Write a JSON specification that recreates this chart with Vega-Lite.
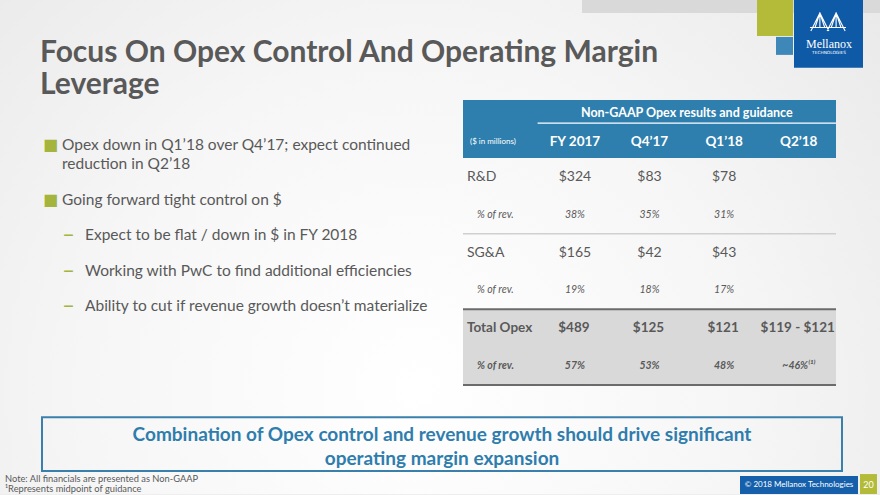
{
  "$schema": "https://vega.github.io/schema/vega-lite/v6.json",
  "width": 880,
  "height": 495,
  "autosize": {"type": "fit", "contains": "padding"},
  "padding": 0,
  "background": "#eeeeee",
  "config": {"view": {"stroke": null}, "text": {"font": "Lato", "color": "#595959"}},
  "datasets": {
    "bullets": [
      {"item": "b1", "level": "bullet", "marker": "■", "text": ["Opex down in Q1’18 over Q4’17; expect continued", "reduction in Q2’18"]},
      {"item": "b2", "level": "bullet", "marker": "■", "text": "Going forward tight control on $"},
      {"item": "s1", "level": "sub", "marker": "–", "text": "Expect to be flat / down in $ in FY 2018"},
      {"item": "s2", "level": "sub", "marker": "–", "text": "Working with PwC to find additional efficiencies"},
      {"item": "s3", "level": "sub", "marker": "–", "text": "Ability to cut if revenue growth doesn’t materialize"}
    ],
    "header": [
      {"col": "label", "text": "($ in millions)"},
      {"col": "FY 2017", "text": "FY 2017"},
      {"col": "Q4’17", "text": "Q4’17"},
      {"col": "Q1’18", "text": "Q1’18"},
      {"col": "Q2’18", "text": "Q2’18"}
    ],
    "cells": [
      {"row": "R&D", "col": "label", "kind": "amt", "text": "R&D"},
      {"row": "R&D", "col": "FY 2017", "kind": "amt", "text": "$324"},
      {"row": "R&D", "col": "Q4’17", "kind": "amt", "text": "$83"},
      {"row": "R&D", "col": "Q1’18", "kind": "amt", "text": "$78"},
      {"row": "R&D %", "col": "label", "kind": "pct", "text": "% of rev."},
      {"row": "R&D %", "col": "FY 2017", "kind": "pct", "text": "38%"},
      {"row": "R&D %", "col": "Q4’17", "kind": "pct", "text": "35%"},
      {"row": "R&D %", "col": "Q1’18", "kind": "pct", "text": "31%"},
      {"row": "SG&A", "col": "label", "kind": "amt", "text": "SG&A"},
      {"row": "SG&A", "col": "FY 2017", "kind": "amt", "text": "$165"},
      {"row": "SG&A", "col": "Q4’17", "kind": "amt", "text": "$42"},
      {"row": "SG&A", "col": "Q1’18", "kind": "amt", "text": "$43"},
      {"row": "SG&A %", "col": "label", "kind": "pct", "text": "% of rev."},
      {"row": "SG&A %", "col": "FY 2017", "kind": "pct", "text": "19%"},
      {"row": "SG&A %", "col": "Q4’17", "kind": "pct", "text": "18%"},
      {"row": "SG&A %", "col": "Q1’18", "kind": "pct", "text": "17%"},
      {"row": "Total Opex", "col": "label", "kind": "tamt", "text": "Total Opex"},
      {"row": "Total Opex", "col": "FY 2017", "kind": "tamt", "text": "$489"},
      {"row": "Total Opex", "col": "Q4’17", "kind": "tamt", "text": "$125"},
      {"row": "Total Opex", "col": "Q1’18", "kind": "tamt", "text": "$121"},
      {"row": "Total Opex", "col": "Q2’18", "kind": "tamt", "text": "$119 - $121"},
      {"row": "Total %", "col": "label", "kind": "tpct", "text": "% of rev."},
      {"row": "Total %", "col": "FY 2017", "kind": "tpct", "text": "57%"},
      {"row": "Total %", "col": "Q4’17", "kind": "tpct", "text": "53%"},
      {"row": "Total %", "col": "Q1’18", "kind": "tpct", "text": "48%"},
      {"row": "Total %", "col": "Q2’18", "kind": "tpct", "text": "~46%⁽¹⁾"}
    ]
  },
  "resolve": {"scale": {"x": "independent", "y": "independent"}},
  "layer": [
    {
      "data": {"values": [{}]},
      "layer": [
        {"mark": {"type": "rect", "fill": {"gradient": "radial", "x1": 0.47, "y1": 0.66, "r1": 0, "x2": 0.47, "y2": 0.66, "r2": 0.75, "stops": [{"offset": 0, "color": "#ffffff"}, {"offset": 0.5, "color": "#f6f6f6"}, {"offset": 1, "color": "#e7e7e7"}]}},
         "encoding": {"x": {"datum": 0, "scale": {"domain": [0, 880], "nice": false, "zero": false}, "axis": null}, "x2": {"datum": 880}, "y": {"datum": 0, "scale": {"domain": [0, 495], "nice": false, "zero": false, "reverse": true}, "axis": null}, "y2": {"datum": 495}}},
        {"mark": {"type": "rect", "color": "#d9d9d9"},
         "encoding": {"x": {"datum": 582, "scale": {"domain": [0, 880], "nice": false, "zero": false}, "axis": null}, "x2": {"datum": 880}, "y": {"datum": 0, "scale": {"domain": [0, 495], "nice": false, "zero": false, "reverse": true}, "axis": null}, "y2": {"datum": 13}}},
        {"mark": {"type": "rect", "color": "#b3bb38"},
         "encoding": {"x": {"datum": 757, "scale": {"domain": [0, 880], "nice": false, "zero": false}, "axis": null}, "x2": {"datum": 793}, "y": {"datum": 0, "scale": {"domain": [0, 495], "nice": false, "zero": false, "reverse": true}, "axis": null}, "y2": {"datum": 36}}},
        {"mark": {"type": "rect", "color": "#3d87b9"},
         "encoding": {"x": {"datum": 776, "scale": {"domain": [0, 880], "nice": false, "zero": false}, "axis": null}, "x2": {"datum": 793}, "y": {"datum": 37, "scale": {"domain": [0, 495], "nice": false, "zero": false, "reverse": true}, "axis": null}, "y2": {"datum": 55}}},
        {"mark": {"type": "rect", "color": "#0f5aa7"},
         "encoding": {"x": {"datum": 794, "scale": {"domain": [0, 880], "nice": false, "zero": false}, "axis": null}, "x2": {"datum": 863}, "y": {"datum": 0, "scale": {"domain": [0, 495], "nice": false, "zero": false, "reverse": true}, "axis": null}, "y2": {"datum": 68}}},
        {"mark": {"type": "point", "filled": false, "stroke": "#ffffff", "strokeWidth": 1.1, "opacity": 1, "size": 1300, "shape": "M -0.95 0.45 L -0.45 -0.55 L 0.05 0.45 M -0.05 0.45 L 0.45 -0.55 L 0.95 0.45 M -1 0.25 L 1 0.25 M -0.45 -0.55 L -0.45 0.25 M 0.45 -0.55 L 0.45 0.25 M -0.45 -0.55 L -0.72 0.25 M -0.45 -0.55 L -0.18 0.25 M 0.45 -0.55 L 0.18 0.25 M 0.45 -0.55 L 0.72 0.25"},
         "encoding": {"x": {"datum": 828, "scale": {"domain": [0, 880], "nice": false, "zero": false}, "axis": null}, "y": {"datum": 23, "scale": {"domain": [0, 495], "nice": false, "zero": false, "reverse": true}, "axis": null}}},
        {"mark": {"type": "text", "font": "Liberation Serif", "fontSize": 12, "color": "#ffffff", "align": "center", "baseline": "alphabetic"},
         "encoding": {"text": {"value": "Mellanox"}, "x": {"datum": 829, "scale": {"domain": [0, 880], "nice": false, "zero": false}, "axis": null}, "y": {"datum": 48, "scale": {"domain": [0, 495], "nice": false, "zero": false, "reverse": true}, "axis": null}}},
        {"mark": {"type": "text", "font": "DejaVu Sans", "fontSize": 4.3, "color": "#ffffff", "align": "center", "baseline": "alphabetic"},
         "encoding": {"text": {"value": "TECHNOLOGIES"}, "x": {"datum": 829, "scale": {"domain": [0, 880], "nice": false, "zero": false}, "axis": null}, "y": {"datum": 54, "scale": {"domain": [0, 495], "nice": false, "zero": false, "reverse": true}, "axis": null}}},
        {"mark": {"type": "text", "fontSize": 30, "fontWeight": "bold", "color": "#595959", "align": "left", "baseline": "alphabetic", "lineHeight": 32},
         "encoding": {"text": {"value": ["Focus On Opex Control And Operating Margin", "Leverage"]}, "x": {"datum": 40, "scale": {"domain": [0, 880], "nice": false, "zero": false}, "axis": null}, "y": {"datum": 62, "scale": {"domain": [0, 495], "nice": false, "zero": false, "reverse": true}, "axis": null}}},
        {"mark": {"type": "rect", "fill": "transparent", "stroke": "#3a80ad", "strokeWidth": 2},
         "encoding": {"x": {"datum": 42, "scale": {"domain": [0, 880], "nice": false, "zero": false}, "axis": null}, "x2": {"datum": 842}, "y": {"datum": 418, "scale": {"domain": [0, 495], "nice": false, "zero": false, "reverse": true}, "axis": null}, "y2": {"datum": 472}}},
        {"mark": {"type": "text", "fontSize": 19, "fontWeight": "bold", "color": "#2f7dad", "align": "center", "baseline": "alphabetic", "lineHeight": 24},
         "encoding": {"text": {"value": ["Combination of Opex control and revenue growth should drive significant", "operating margin expansion"]}, "x": {"datum": 442, "scale": {"domain": [0, 880], "nice": false, "zero": false}, "axis": null}, "y": {"datum": 442, "scale": {"domain": [0, 495], "nice": false, "zero": false, "reverse": true}, "axis": null}}},
        {"mark": {"type": "text", "fontSize": 9.3, "color": "#595959", "align": "left", "baseline": "alphabetic", "lineHeight": 10},
         "encoding": {"text": {"value": ["Note: All financials are presented as Non-GAAP", "¹Represents midpoint of guidance"]}, "x": {"datum": 5, "scale": {"domain": [0, 880], "nice": false, "zero": false}, "axis": null}, "y": {"datum": 483, "scale": {"domain": [0, 495], "nice": false, "zero": false, "reverse": true}, "axis": null}}},
        {"mark": {"type": "rect", "color": "#155fab"},
         "encoding": {"x": {"datum": 740, "scale": {"domain": [0, 880], "nice": false, "zero": false}, "axis": null}, "x2": {"datum": 858}, "y": {"datum": 477, "scale": {"domain": [0, 495], "nice": false, "zero": false, "reverse": true}, "axis": null}, "y2": {"datum": 495}}},
        {"mark": {"type": "rect", "color": "#b3bb38"},
         "encoding": {"x": {"datum": 860, "scale": {"domain": [0, 880], "nice": false, "zero": false}, "axis": null}, "x2": {"datum": 877}, "y": {"datum": 475, "scale": {"domain": [0, 495], "nice": false, "zero": false, "reverse": true}, "axis": null}, "y2": {"datum": 495}}},
        {"mark": {"type": "text", "fontSize": 8, "color": "#ffffff", "align": "center", "baseline": "middle"},
         "encoding": {"text": {"value": "© 2018 Mellanox Technologies"}, "x": {"datum": 799, "scale": {"domain": [0, 880], "nice": false, "zero": false}, "axis": null}, "y": {"datum": 486, "scale": {"domain": [0, 495], "nice": false, "zero": false, "reverse": true}, "axis": null}}},
        {"mark": {"type": "text", "fontSize": 9, "color": "#ffffff", "align": "center", "baseline": "middle"},
         "encoding": {"text": {"value": "20"}, "x": {"datum": 868.5, "scale": {"domain": [0, 880], "nice": false, "zero": false}, "axis": null}, "y": {"datum": 486, "scale": {"domain": [0, 495], "nice": false, "zero": false, "reverse": true}, "axis": null}}}
      ]
    },
    {
      "data": {"name": "bullets"},
      "resolve": {"scale": {"x": "independent"}},
      "layer": [
        {"transform": [{"filter": "datum.item === 'b2'"}],
         "mark": {"type": "text", "align": "left", "baseline": "bottom", "color": "#a4b43c", "font": "DejaVu Sans", "fontSize": 16},
         "encoding": {
           "x": {"field": "level", "type": "nominal", "scale": {"type": "point", "domain": ["bullet", "sub"], "range": [43, 63], "padding": 0}, "axis": null},
           "y": {"field": "item", "type": "nominal", "scale": {"type": "point", "domain": ["b1", "b2", "s1", "s2", "s3"], "range": [172, 314], "padding": 0}, "axis": null},
           "text": {"field": "marker"}}},
        {"transform": [{"filter": "datum.item === 'b1'"}],
         "mark": {"type": "text", "align": "left", "baseline": "bottom", "color": "#a4b43c", "font": "DejaVu Sans", "fontSize": 16, "dy": -19.5},
         "encoding": {
           "x": {"field": "level", "type": "nominal", "scale": {"type": "point", "domain": ["bullet", "sub"], "range": [43, 63], "padding": 0}, "axis": null},
           "y": {"field": "item", "type": "nominal", "scale": {"type": "point", "domain": ["b1", "b2", "s1", "s2", "s3"], "range": [172, 314], "padding": 0}, "axis": null},
           "text": {"field": "marker"}}},
        {"transform": [{"filter": "datum.level === 'sub'"}],
         "mark": {"type": "text", "align": "left", "baseline": "bottom", "color": "#a4b43c", "font": "DejaVu Sans", "fontSize": 22, "dy": 3},
         "encoding": {
           "x": {"field": "level", "type": "nominal", "scale": {"type": "point", "domain": ["bullet", "sub"], "range": [43, 63], "padding": 0}, "axis": null},
           "y": {"field": "item", "type": "nominal", "scale": {"type": "point", "domain": ["b1", "b2", "s1", "s2", "s3"], "range": [172, 314], "padding": 0}, "axis": null},
           "text": {"field": "marker"}}},
        {"transform": [{"filter": "datum.item !== 'b1'"}],
         "mark": {"type": "text", "align": "left", "baseline": "bottom", "lineHeight": 19.5, "fontSize": 15.5, "color": "#595959"},
         "encoding": {
           "x": {"field": "level", "type": "nominal", "scale": {"type": "point", "domain": ["bullet", "sub"], "range": [62, 85], "padding": 0}, "axis": null},
           "y": {"field": "item", "type": "nominal", "scale": {"type": "point", "domain": ["b1", "b2", "s1", "s2", "s3"], "range": [172, 314], "padding": 0}, "axis": null},
           "text": {"field": "text"}}},
        {"transform": [{"filter": "datum.item === 'b1'"}],
         "mark": {"type": "text", "align": "left", "baseline": "bottom", "lineHeight": 19.5, "fontSize": 15.5, "color": "#595959", "dy": -19.5},
         "encoding": {
           "x": {"field": "level", "type": "nominal", "scale": {"type": "point", "domain": ["bullet", "sub"], "range": [62, 85], "padding": 0}, "axis": null},
           "y": {"field": "item", "type": "nominal", "scale": {"type": "point", "domain": ["b1", "b2", "s1", "s2", "s3"], "range": [172, 314], "padding": 0}, "axis": null},
           "text": {"field": "text"}}}
      ]
    },
    {
      "data": {"name": "header"},
      "layer": [
        {"data": {"values": [{}]},
         "mark": {"type": "rect", "color": "#2f7fae"},
         "encoding": {
           "x": {"datum": "label", "type": "nominal", "bandPosition": 0, "scale": {"type": "band", "domain": ["label", "FY 2017", "Q4’17", "Q1’18", "Q2’18"], "range": [463, 836], "paddingInner": 0, "paddingOuter": 0}, "axis": null},
           "x2": {"datum": "Q2’18", "bandPosition": 1},
           "y": {"datum": "title", "type": "nominal", "bandPosition": 0, "scale": {"type": "band", "domain": ["title", "cols"], "range": [100, 158], "paddingInner": 0, "paddingOuter": 0}, "axis": null},
           "y2": {"datum": "cols", "bandPosition": 1}}},
        {"data": {"values": [{}]},
         "mark": {"type": "rule", "color": "#ffffff", "strokeWidth": 1.2},
         "encoding": {
           "x": {"datum": "FY 2017", "type": "nominal", "bandPosition": 0, "scale": {"type": "band", "domain": ["label", "FY 2017", "Q4’17", "Q1’18", "Q2’18"], "range": [463, 836], "paddingInner": 0, "paddingOuter": 0}, "axis": null},
           "x2": {"datum": "Q2’18", "bandPosition": 1},
           "y": {"datum": "title", "type": "nominal", "bandPosition": 0.8, "scale": {"type": "band", "domain": ["title", "cols"], "range": [100, 158], "paddingInner": 0, "paddingOuter": 0}, "axis": null}}},
        {"data": {"values": [{}]},
         "mark": {"type": "text", "color": "#ffffff", "fontSize": 12.5, "fontWeight": "bold", "align": "center", "baseline": "middle"},
         "encoding": {
           "text": {"value": "Non-GAAP Opex results and guidance"},
           "x": {"datum": "Q1’18", "type": "nominal", "bandPosition": 0, "scale": {"type": "band", "domain": ["label", "FY 2017", "Q4’17", "Q1’18", "Q2’18"], "range": [463, 836], "paddingInner": 0, "paddingOuter": 0}, "axis": null},
           "y": {"datum": "title", "type": "nominal", "bandPosition": 0.45, "scale": {"type": "band", "domain": ["title", "cols"], "range": [100, 158], "paddingInner": 0, "paddingOuter": 0}, "axis": null}}},
        {"transform": [{"filter": "datum.col !== 'label'"}],
         "mark": {"type": "text", "color": "#ffffff", "fontSize": 13.5, "fontWeight": "bold", "align": "center", "baseline": "middle"},
         "encoding": {
           "text": {"field": "text"},
           "x": {"field": "col", "type": "nominal", "bandPosition": 0.5, "scale": {"type": "band", "domain": ["label", "FY 2017", "Q4’17", "Q1’18", "Q2’18"], "range": [463, 836], "paddingInner": 0, "paddingOuter": 0}, "axis": null},
           "y": {"datum": "cols", "type": "nominal", "bandPosition": 0.45, "scale": {"type": "band", "domain": ["title", "cols"], "range": [100, 158], "paddingInner": 0, "paddingOuter": 0}, "axis": null}}},
        {"transform": [{"filter": "datum.col === 'label'"}],
         "mark": {"type": "text", "color": "#ffffff", "fontSize": 8, "align": "left", "baseline": "middle", "dx": 7},
         "encoding": {
           "text": {"field": "text"},
           "x": {"field": "col", "type": "nominal", "bandPosition": 0, "scale": {"type": "band", "domain": ["label", "FY 2017", "Q4’17", "Q1’18", "Q2’18"], "range": [463, 836], "paddingInner": 0, "paddingOuter": 0}, "axis": null},
           "y": {"datum": "cols", "type": "nominal", "bandPosition": 0.45, "scale": {"type": "band", "domain": ["title", "cols"], "range": [100, 158], "paddingInner": 0, "paddingOuter": 0}, "axis": null}}}
      ]
    },
    {
      "data": {"name": "cells"},
      "encoding": {
        "x": {"field": "col", "type": "nominal", "scale": {"type": "band", "domain": ["label", "FY 2017", "Q4’17", "Q1’18", "Q2’18"], "range": [463, 836], "paddingInner": 0, "paddingOuter": 0}, "axis": null},
        "y": {"field": "row", "type": "nominal", "scale": {"type": "band", "domain": ["R&D", "R&D %", "SG&A", "SG&A %", "Total Opex", "Total %"], "range": [158, 385], "paddingInner": 0, "paddingOuter": 0}, "axis": null},
        "text": {"field": "text"}
      },
      "layer": [
        {"data": {"values": [{}]},
         "mark": {"type": "rect", "color": "#d9d9d9"},
         "encoding": {"x": {"datum": "label", "type": "nominal", "bandPosition": 0}, "x2": {"datum": "Q2’18", "bandPosition": 1}, "y": {"datum": "Total Opex", "type": "nominal", "bandPosition": 0}, "y2": {"datum": "Total %", "bandPosition": 1}, "text": null}},
        {"data": {"values": [{}]},
         "mark": {"type": "rule", "color": "#d0d0d0", "strokeWidth": 1.5},
         "encoding": {"x": {"datum": "label", "type": "nominal", "bandPosition": 0}, "x2": {"datum": "Q2’18", "bandPosition": 1}, "y": {"datum": "SG&A", "type": "nominal", "bandPosition": 0}, "text": null}},
        {"data": {"values": [{}]},
         "mark": {"type": "rule", "color": "#6b6b6b", "strokeWidth": 2},
         "encoding": {"x": {"datum": "label", "type": "nominal", "bandPosition": 0}, "x2": {"datum": "Q2’18", "bandPosition": 1}, "y": {"datum": "Total Opex", "type": "nominal", "bandPosition": 0}, "text": null}},
        {"data": {"values": [{}]},
         "mark": {"type": "rule", "color": "#6b6b6b", "strokeWidth": 2},
         "encoding": {"x": {"datum": "label", "type": "nominal", "bandPosition": 0}, "x2": {"datum": "Q2’18", "bandPosition": 1}, "y": {"datum": "Total %", "type": "nominal", "bandPosition": 1}, "text": null}},
        {"transform": [{"filter": "datum.col !== 'label' && datum.kind === 'amt'"}],
         "mark": {"type": "text", "fontSize": 14, "align": "center", "baseline": "middle"}},
        {"transform": [{"filter": "datum.col !== 'label' && datum.kind === 'pct'"}],
         "mark": {"type": "text", "fontSize": 10.5, "fontStyle": "italic", "align": "center", "baseline": "middle"}},
        {"transform": [{"filter": "datum.col !== 'label' && datum.kind === 'tamt'"}],
         "mark": {"type": "text", "fontSize": 13.5, "fontWeight": "bold", "align": "center", "baseline": "middle", "dx": -1}},
        {"transform": [{"filter": "datum.col !== 'label' && datum.kind === 'tpct'"}],
         "mark": {"type": "text", "fontSize": 10.5, "fontWeight": "bold", "fontStyle": "italic", "align": "center", "baseline": "middle"}},
        {"transform": [{"filter": "datum.col === 'label' && datum.kind === 'amt'"}],
         "mark": {"type": "text", "fontSize": 14, "align": "left", "baseline": "middle", "dx": 4},
         "encoding": {"x": {"field": "col", "type": "nominal", "bandPosition": 0}}},
        {"transform": [{"filter": "datum.col === 'label' && datum.kind === 'pct'"}],
         "mark": {"type": "text", "fontSize": 10.5, "fontStyle": "italic", "align": "left", "baseline": "middle", "dx": 14},
         "encoding": {"x": {"field": "col", "type": "nominal", "bandPosition": 0}}},
        {"transform": [{"filter": "datum.col === 'label' && datum.kind === 'tamt'"}],
         "mark": {"type": "text", "fontSize": 13.5, "fontWeight": "bold", "align": "left", "baseline": "middle", "dx": 4},
         "encoding": {"x": {"field": "col", "type": "nominal", "bandPosition": 0}}},
        {"transform": [{"filter": "datum.col === 'label' && datum.kind === 'tpct'"}],
         "mark": {"type": "text", "fontSize": 10.5, "fontWeight": "bold", "fontStyle": "italic", "align": "left", "baseline": "middle", "dx": 14},
         "encoding": {"x": {"field": "col", "type": "nominal", "bandPosition": 0}}}
      ]
    }
  ]
}
